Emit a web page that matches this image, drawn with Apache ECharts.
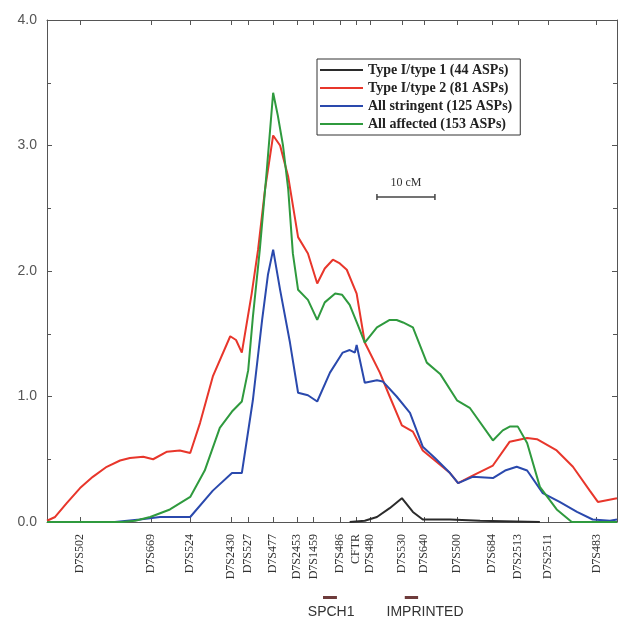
<!DOCTYPE html>
<html>
<head>
<meta charset="utf-8">
<script src="https://cdn.jsdelivr.net/npm/echarts@6/dist/echarts.min.js"></script>
<style>
  html, body { margin: 0; padding: 0; background: #fff; }
  #main { width: 621px; height: 625px; }
</style>
</head>
<body>
<div id="main"></div>
<script>
// marker map (positions in cM from the left edge of the plot)
const markerNames = ['D7S502', 'D7S669', 'D7S524', 'D7S2430', 'D7S527', 'D7S477', 'D7S2453', 'D7S1459',
  'D7S486', 'CFTR', 'D7S480', 'D7S530', 'D7S640', 'D7S500', 'D7S684', 'D7S2513', 'D7S2511', 'D7S483'];
const markerPos = [5.7, 17.9, 24.7, 31.7, 34.7, 39.0, 43.1, 46.0, 50.5, 53.3, 55.7, 61.2, 65.0, 70.7, 76.7, 81.2, 86.4, 94.8];

const seriesNames = ['Type I/type 1 (44 ASPs)', 'Type I/type 2 (81 ASPs)', 'All stringent (125 ASPs)', 'All affected (153 ASPs)'];

// [cM, score]
const type11 = [[52.2, 0], [54.8, 0.01], [56.9, 0.04], [59.1, 0.11], [61.2, 0.19], [63.1, 0.08], [64.8, 0.02],
  [69.5, 0.02], [74.7, 0.01], [85.0, 0]];
const type12 = [[0, 0.01], [1.4, 0.04], [3.4, 0.15], [5.7, 0.27], [7.9, 0.36], [10.3, 0.44], [12.6, 0.49], [14.3, 0.51],
  [16.6, 0.52], [18.3, 0.50], [20.7, 0.56], [22.9, 0.57], [24.7, 0.55], [26.4, 0.79], [28.6, 1.16], [31.6, 1.48],
  [32.6, 1.45], [33.6, 1.35], [35.3, 1.82], [36.4, 2.17], [37.6, 2.65], [39.0, 3.08], [40.2, 3.00], [41.6, 2.75],
  [43.3, 2.27], [45.0, 2.14], [46.6, 1.90], [47.9, 2.02], [49.3, 2.09], [50.5, 2.06], [51.7, 2.01], [53.4, 1.82],
  [54.8, 1.43], [57.4, 1.19], [59.1, 1.00], [61.2, 0.77], [63.1, 0.72], [64.8, 0.57], [66.9, 0.49], [69.5, 0.39],
  [70.9, 0.31], [73.4, 0.37], [76.9, 0.45], [79.8, 0.64], [82.8, 0.67], [84.5, 0.66], [87.9, 0.57], [90.7, 0.44],
  [93.6, 0.25], [95.0, 0.16], [98.3, 0.19]];
const stringent = [[0, 0], [11.7, 0], [16.0, 0.02], [19.5, 0.04], [24.7, 0.04], [28.6, 0.25], [31.9, 0.39], [33.6, 0.39],
  [35.5, 0.97], [37.1, 1.61], [38.1, 1.97], [39.0, 2.17], [40.2, 1.85], [41.9, 1.43], [43.3, 1.03], [45.0, 1.01],
  [46.6, 0.96], [48.8, 1.19], [51.0, 1.35], [52.2, 1.37], [53.1, 1.35], [53.4, 1.41], [54.8, 1.11], [56.9, 1.13],
  [57.9, 1.12], [60.3, 1.00], [62.6, 0.87], [64.8, 0.60], [66.9, 0.51], [69.5, 0.39], [70.9, 0.31], [73.4, 0.36],
  [76.9, 0.35], [79.0, 0.41], [81.0, 0.44], [82.8, 0.41], [85.5, 0.23], [88.4, 0.16], [91.4, 0.08], [94.1, 0.02],
  [97.1, 0.01], [98.3, 0.02]];
const affected = [[0, 0], [12.9, 0], [15.2, 0.01], [17.8, 0.04], [21.2, 0.10], [24.7, 0.20], [27.2, 0.41], [29.8, 0.75],
  [31.9, 0.88], [33.6, 0.96], [34.7, 1.21], [35.5, 1.63], [36.7, 2.17], [37.9, 2.80], [39.0, 3.42], [39.8, 3.24],
  [40.7, 3.00], [41.6, 2.65], [42.4, 2.14], [43.3, 1.85], [45.0, 1.77], [46.6, 1.61], [47.9, 1.75], [49.7, 1.82],
  [50.9, 1.81], [52.2, 1.73], [53.6, 1.57], [54.8, 1.43], [56.9, 1.55], [59.1, 1.61], [60.3, 1.61], [61.4, 1.59],
  [63.1, 1.55], [65.5, 1.27], [67.8, 1.18], [70.7, 0.97], [72.9, 0.91], [76.9, 0.65], [78.6, 0.73], [79.8, 0.76],
  [81.2, 0.76], [82.8, 0.63], [85.0, 0.28], [87.9, 0.10], [90.5, 0], [98.3, 0]];

// annotations below the marker axis (cM)
const regionNames = ['SPCH1', 'IMPRINTED'];
const regionStart = [47.6, 61.7];
const regionEnd = [50.0, 64.0];
const regionLabelPos = [49.0, 65.2];
const scaleStart = 56.9; // 10 cM scale bar

const colors = ['#2b2b2b', '#e8362b', '#2a49ad', '#2f9a3e'];
const xMax = 98.3;

const chart = echarts.init(document.getElementById('main'));

function markerLabel(v) {
  let best = 0;
  markerPos.forEach((p, i) => { if (Math.abs(p - v) < Math.abs(markerPos[best] - v)) best = i; });
  return markerNames[best];
}

const axisLine = { show: true, onZero: false, lineStyle: { color: '#555', width: 1 } };

chart.setOption({
  animation: false,
  color: colors,
  grid: { left: 47, right: 4, top: 20, bottom: 103 },
  legend: {
    left: 317, top: 59,
    orient: 'vertical',
    icon: 'rect', itemWidth: 43, itemHeight: 2, itemGap: 4,
    padding: [4, 8, 4, 3],
    borderColor: '#333', borderWidth: 1,
    textStyle: { fontFamily: 'Liberation Serif', fontSize: 14, fontWeight: 'bold', color: '#222' },
    data: seriesNames
  },
  xAxis: [{
    type: 'value', min: 0, max: xMax, position: 'bottom',
    axisLine: axisLine,
    splitLine: { show: false },
    axisTick: { inside: true, length: 5, customValues: markerPos, lineStyle: { color: '#555' } },
    axisLabel: {
      customValues: markerPos, rotate: 90, margin: 12, formatter: markerLabel,
      fontFamily: 'Liberation Serif', fontSize: 12, color: '#333'
    }
  }, {
    type: 'value', min: 0, max: xMax, position: 'top',
    axisLine: axisLine,
    splitLine: { show: false },
    axisTick: { inside: true, length: 5, customValues: markerPos, lineStyle: { color: '#555' } },
    axisLabel: { show: false }
  }],
  yAxis: [{
    type: 'value', min: 0, max: 4, interval: 1, position: 'left',
    axisLine: axisLine,
    splitLine: { show: false },
    axisTick: { inside: true, length: 5, lineStyle: { color: '#555' } },
    minorTick: { show: true, splitNumber: 2, length: 4, lineStyle: { color: '#555' } },
    axisLabel: { formatter: v => v.toFixed(1), margin: 10, fontFamily: 'Liberation Sans', fontSize: 14, color: '#555' }
  }, {
    type: 'value', min: 0, max: 4, interval: 1, position: 'right',
    axisLine: axisLine,
    splitLine: { show: false },
    axisTick: { inside: true, length: 5, lineStyle: { color: '#555' } },
    minorTick: { show: true, splitNumber: 2, length: 4, lineStyle: { color: '#555' } },
    axisLabel: { show: false }
  }],
  series: [type11, type12, stringent, affected].map((d, i) => ({
    name: seriesNames[i],
    type: 'line',
    data: d,
    showSymbol: false,
    smooth: false,
    lineStyle: { width: 2, color: colors[i] },
    itemStyle: { color: colors[i] },
    z: 2 + i
  }))
});

// scale bar and region annotations, placed through the axis scale
const sx = v => chart.convertToPixel({ xAxisIndex: 0 }, v);
const barY = 197;
const graphic = [
  { type: 'line', shape: { x1: sx(scaleStart), y1: barY, x2: sx(scaleStart + 10), y2: barY }, style: { stroke: '#444', lineWidth: 1.5 } },
  { type: 'line', shape: { x1: sx(scaleStart), y1: barY - 3, x2: sx(scaleStart), y2: barY + 3 }, style: { stroke: '#444', lineWidth: 1.5 } },
  { type: 'line', shape: { x1: sx(scaleStart + 10), y1: barY - 3, x2: sx(scaleStart + 10), y2: barY + 3 }, style: { stroke: '#444', lineWidth: 1.5 } },
  {
    type: 'text', x: sx(scaleStart + 5), y: barY - 14,
    style: { text: '10 cM', font: '12px "Liberation Serif"', fill: '#333', align: 'center', verticalAlign: 'middle' }
  }
];
regionNames.forEach((name, i) => {
  graphic.push({
    type: 'rect', shape: { x: sx(regionStart[i]), y: 596, width: sx(regionEnd[i]) - sx(regionStart[i]), height: 3 },
    style: { fill: '#6e3b3b' }
  });
  graphic.push({
    type: 'text', x: sx(regionLabelPos[i]), y: 612,
    style: { text: name, font: '14px "Liberation Sans"', fill: '#333', align: 'center', verticalAlign: 'middle' }
  });
});
chart.setOption({ graphic: graphic });

window.onresize = () => chart.resize();
</script>
</body>
</html>
